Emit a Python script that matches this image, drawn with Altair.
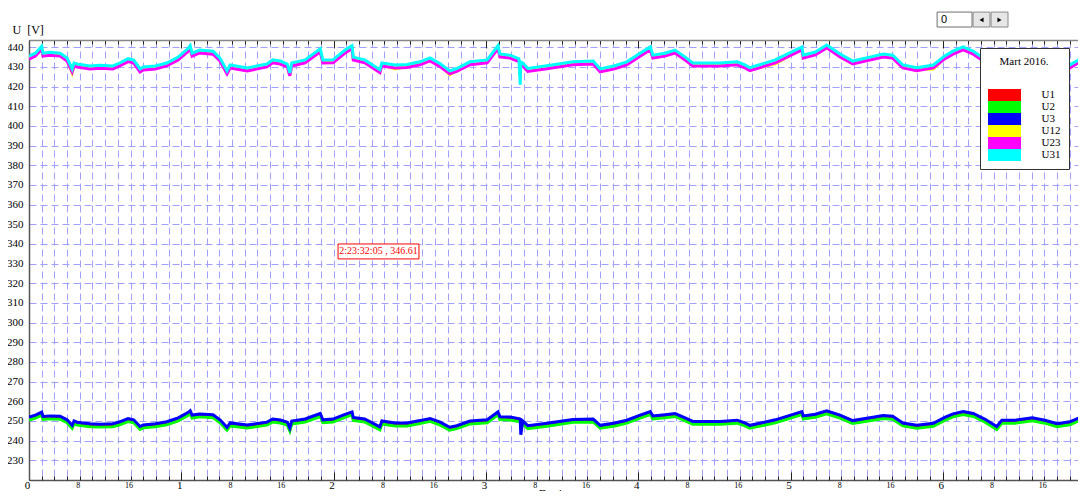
import altair as alt
import pandas as pd

# ---------------- data ----------------
HOURS = [0.0, 1.0, 2.0, 2.2, 3.3, 4.9, 6.0, 6.8, 7.1, 7.6,
         9.6, 11.2, 13.2, 14.3, 15.6, 16.5, 17.5, 18.0, 19.9, 21.7,
         23.5, 25.1, 25.4, 25.7, 26.9, 29.0, 30.1, 31.2, 31.7, 34.4,
         37.5, 38.4, 39.6, 40.7, 41.1, 41.4, 43.5, 45.9, 46.3, 47.9,
         49.8, 50.9, 51.1, 52.9, 55.3, 55.6, 57.7, 59.6, 61.6, 63.2,
         64.8, 66.3, 67.4, 69.5, 72.2, 73.9, 74.2, 75.8, 77.2, 77.4,
         77.5, 77.8, 78.6, 81.6, 85.7, 88.9, 90.0, 92.3, 94.2, 96.3,
         97.9, 98.3, 100.2, 101.8, 103.4, 104.6, 108.9, 111.6, 112.8, 113.6,
         117.6, 121.8, 122.0, 123.9, 125.7, 127.8, 129.8, 132.5, 134.6, 136.1,
         137.7, 139.9, 142.5, 144.3, 145.6, 147.2, 148.8, 150.6, 152.5, 153.3,
         155.4, 158.1, 160.1, 162.0, 164.0, 165.6, 166.6]

U31 = [435.5, 437.0, 440.5, 437.0, 437.5, 437.0, 434.5, 429.0, 432.0, 431.5,
       430.5, 430.8, 430.5, 432.0, 434.2, 433.5, 429.0, 430.0, 430.5, 432.0,
       435.0, 439.5, 440.8, 437.0, 438.6, 438.0, 434.5, 428.0, 431.0, 429.5,
       431.5, 433.6, 433.0, 431.5, 427.0, 432.0, 433.6, 439.2, 433.5, 433.6,
       438.6, 440.8, 435.0, 433.6, 428.6, 432.0, 431.0, 431.2, 432.6, 434.6,
       431.6, 428.0, 429.2, 432.6, 433.6, 440.8, 436.6, 436.0, 434.2, 421.0,
       432.5, 432.0, 429.2, 430.6, 432.6, 433.0, 429.0, 430.6, 432.6, 437.0,
       440.2, 436.0, 437.0, 438.6, 435.0, 432.0, 432.0, 432.6, 431.0, 429.6,
       433.6, 440.2, 436.0, 437.6, 441.2, 436.6, 433.0, 435.0, 436.6, 436.0,
       431.0, 429.6, 431.0, 435.6, 438.0, 440.2, 438.0, 434.0, 429.0, 432.6,
       432.6, 434.0, 432.6, 430.6, 431.0, 434.0, 434.6]

U23 = [434.0, 435.5, 439.0, 435.5, 436.0, 435.5, 433.0, 427.5, 430.5, 430.0,
       429.0, 429.3, 429.0, 430.5, 432.7, 432.0, 427.5, 428.5, 429.0, 430.5,
       433.5, 438.0, 439.3, 435.5, 437.1, 436.5, 433.0, 426.5, 429.5, 428.0,
       430.0, 432.1, 431.5, 430.0, 425.5, 430.5, 432.1, 437.7, 432.0, 432.1,
       437.1, 439.3, 433.5, 432.1, 427.1, 430.5, 429.5, 429.7, 431.1, 433.1,
       430.1, 426.5, 427.7, 431.1, 432.1, 439.3, 435.1, 434.5, 432.7, 431.9,
       431.0, 430.5, 427.7, 429.1, 431.1, 431.5, 427.5, 429.1, 431.1, 435.5,
       438.7, 434.5, 435.5, 437.1, 433.5, 430.5, 430.5, 431.1, 429.5, 428.1,
       432.1, 438.7, 434.5, 436.1, 439.7, 435.1, 431.5, 433.5, 435.1, 434.5,
       429.5, 428.1, 429.5, 434.1, 436.5, 438.7, 436.5, 432.5, 427.5, 431.1,
       431.1, 432.5, 431.1, 429.1, 429.5, 432.5, 433.1]

U12 = [434.5, 436.0, 439.5, 436.0, 436.5, 436.0, 433.5, 427.0, 431.0, 430.5,
       429.5, 429.8, 429.5, 431.0, 433.2, 432.5, 428.0, 429.0, 429.5, 431.0,
       434.0, 438.5, 439.8, 436.0, 437.6, 437.0, 433.5, 427.0, 430.0, 428.5,
       430.5, 432.6, 432.0, 430.5, 426.0, 431.0, 432.6, 438.2, 432.5, 432.6,
       437.6, 439.8, 434.0, 432.6, 427.6, 431.0, 429.0, 430.2, 431.6, 433.6,
       430.6, 426.0, 428.2, 431.6, 432.6, 439.8, 435.6, 435.0, 433.2, 432.4,
       431.5, 431.0, 428.2, 429.6, 431.6, 432.0, 428.0, 429.6, 431.6, 436.0,
       439.2, 435.0, 436.0, 437.6, 434.0, 431.0, 431.0, 431.6, 430.0, 428.6,
       431.6, 439.2, 435.0, 436.6, 440.2, 435.6, 432.0, 434.0, 435.6, 435.0,
       430.0, 428.6, 429.0, 434.6, 437.0, 439.2, 437.0, 433.0, 428.0, 431.6,
       431.6, 433.0, 431.6, 429.6, 430.0, 433.0, 433.6]

U3 = [252.0, 253.0, 254.5, 252.3, 252.6, 252.4, 250.6, 247.8, 250.0, 249.4,
      248.6, 248.4, 248.6, 249.6, 251.2, 250.6, 247.2, 248.0, 248.6, 249.6,
      251.6, 254.4, 255.2, 253.0, 253.6, 253.2, 250.6, 246.8, 249.0, 248.0,
      249.4, 251.0, 250.5, 249.4, 246.4, 250.0, 251.0, 253.8, 250.6, 251.0,
      253.4, 254.6, 251.8, 251.0, 247.0, 250.0, 249.0, 249.0, 250.2, 251.3,
      249.4, 246.8, 247.6, 250.0, 250.6, 254.6, 252.2, 252.0, 251.2, 251.0,
      243.0, 250.0, 247.6, 248.8, 250.8, 251.0, 247.8, 249.0, 250.4, 253.0,
      254.8, 252.6, 253.2, 253.8, 251.6, 249.8, 249.8, 250.4, 249.0, 247.8,
      250.6, 254.8, 252.6, 253.4, 255.2, 253.0, 250.2, 251.6, 252.8, 252.4,
      249.0, 247.8, 248.8, 251.8, 253.6, 254.8, 253.8, 251.0, 247.2, 250.4,
      250.4, 251.6, 250.4, 248.6, 249.6, 251.8, 252.2]

U2 = [250.5, 251.5, 253.0, 250.8, 251.1, 250.9, 249.1, 246.3, 248.5, 247.9,
      247.1, 246.9, 247.1, 248.1, 249.7, 249.1, 245.7, 246.5, 247.1, 248.1,
      250.1, 252.9, 253.7, 251.5, 252.1, 251.7, 249.1, 245.3, 247.5, 246.5,
      247.9, 249.5, 249.0, 247.9, 244.9, 248.5, 249.5, 252.3, 249.1, 249.5,
      251.9, 253.1, 250.3, 249.5, 245.5, 248.5, 247.5, 247.5, 248.7, 249.8,
      247.9, 245.3, 246.1, 248.5, 249.1, 253.1, 250.7, 250.5, 249.7, 249.5,
      249.3, 248.5, 246.1, 247.3, 249.3, 249.5, 246.3, 247.5, 248.9, 251.5,
      253.3, 251.1, 251.7, 252.3, 250.1, 248.3, 248.3, 248.9, 247.5, 246.3,
      249.1, 253.3, 251.1, 251.9, 253.7, 251.5, 248.7, 250.1, 251.3, 250.9,
      247.5, 246.3, 247.3, 250.3, 252.1, 253.3, 252.3, 249.5, 245.7, 248.9,
      248.9, 250.1, 248.9, 247.1, 248.1, 250.3, 250.7]

U1 = [251.2, 252.2, 253.7, 251.5, 251.8, 251.6, 249.8, 247.0, 249.2, 248.6,
      247.8, 247.6, 247.8, 248.8, 250.4, 249.8, 246.4, 247.2, 247.8, 248.8,
      250.8, 253.6, 254.4, 252.2, 252.8, 252.4, 249.8, 246.0, 248.2, 247.2,
      248.6, 250.2, 249.7, 248.6, 245.6, 249.2, 250.2, 253.0, 249.8, 250.2,
      252.6, 253.8, 251.0, 250.2, 246.2, 249.2, 248.2, 248.2, 249.4, 250.5,
      248.6, 246.0, 246.8, 249.2, 249.8, 253.8, 251.4, 251.2, 250.4, 250.2,
      250.0, 249.2, 246.8, 248.0, 250.0, 250.2, 247.0, 248.2, 249.6, 252.2,
      254.0, 251.8, 252.4, 253.0, 250.8, 249.0, 249.0, 249.6, 248.2, 247.0,
      249.8, 254.0, 251.8, 252.6, 254.4, 252.2, 249.4, 250.8, 252.0, 251.6,
      248.2, 247.0, 248.0, 251.0, 252.8, 254.0, 253.0, 250.2, 246.4, 249.6,
      249.6, 250.8, 249.6, 247.8, 248.8, 251.0, 251.4]

SERIES = ["U1", "U2", "U3", "U12", "U23", "U31"]
COLORS = ["#ff0000", "#00ff00", "#0000ff", "#ffff00", "#ff00ff", "#00ffff"]
VALUES = [U1, U2, U3, U12, U23, U31]

Y_TICKS = list(range(230, 441, 10))
X_TICKS = list(range(0, 165, 2))          # every 2 hours
X_DOMAIN = [0, 165.3]                     # hours visible
Y_DOMAIN = [220, 443.7]

LEGEND_TITLE = "Mart 2016."
Y_TITLE = "U \u00a0[V]"
X_TITLE = "Dani u mesecu"

# cursor read-out box (data coordinates: hours / volts)
CURSOR_TEXT = ["2:23:32:05 , 346.61"]
CURSOR_X = [48.7, 61.45]
CURSOR_Y = [332.4, 340.0]
CURSOR_C = [55.07, 336.2]

# spin control at the top right (data coordinates)
SPIN_FIELD_X = [143.1, 148.6]
SPIN_BTN_X0 = [148.76, 151.6]
SPIN_BTN_X1 = [151.43, 154.27]
SPIN_Y = [450.3, 457.9]
SPIN_TRI_X = [150.1, 152.93]
SPIN_TRI_SHAPE = ["triangle-left", "triangle-right"]
SPIN_MID_Y = 453.9
SPIN_TEXT = ["0"]
SPIN_TEXT_X = [143.7]

# ---------------- build ----------------
for v in VALUES:
    assert len(v) == len(HOURS)

rows = []
for name, vals in zip(SERIES, VALUES):
    for h, v in zip(HOURS, vals):
        rows.append({"hours": h, "value": v, "series": name})
df = pd.DataFrame(rows)

FONT = "Liberation Serif"
GRID = "#a0a0ff"
PLOT_W, PLOT_H = 1049, 440
IS_DAY = "datum.value % 24 === 0"
LABEL_EXPR = ("datum.value % 24 === 0 ? '' + (datum.value / 24) : "
              "(datum.value % 24 === 8 ? '8' : (datum.value % 24 === 16 ? '16' : ''))")
TICK_SIZE = {"condition": {"test": IS_DAY, "value": 8}, "value": 4}
# 33 x 12 px colour swatch (symbol size 144 -> 6 px per path unit)
SWATCH = "M-2.75,-1H2.75V1H-2.75Z"
PAD = "\u00a0\u00a0\u00a0\u00a0"

xscale = alt.Scale(domain=X_DOMAIN, nice=False, zero=False)
yscale = alt.Scale(domain=Y_DOMAIN, nice=False, zero=False)

lines = alt.Chart(df).mark_line(strokeWidth=3, clip=True).encode(
    x=alt.X("hours:Q", scale=xscale,
            axis=alt.Axis(orient="bottom", values=X_TICKS, labelExpr=LABEL_EXPR,
                          ticks=False, tickSize=0,
                          domainColor="#555555", domainWidth=1.5,
                          grid=True, gridColor=GRID, gridDash=[7, 4], gridWidth=1,
                          labelFont=FONT,
                          labelFontSize={"condition": {"test": IS_DAY, "value": 11}, "value": 8},
                          labelColor="black", labelPadding=5, labelBaseline="middle",
                          labelOffset=-2, labelOverlap=False, labelFlush=False, labelBound=False,
                          title=X_TITLE, titleFont=FONT, titleFontSize=12,
                          titleFontWeight="normal", titleColor="black",
                          titleX=545, titleY=8, titleBaseline="top")),
    y=alt.Y("value:Q", scale=yscale,
            axis=alt.Axis(values=Y_TICKS, ticks=False, tickSize=0,
                          domainColor="#555555", domainWidth=1.5,
                          grid=True, gridColor=GRID, gridDash=[7, 4], gridWidth=1,
                          labelFont=FONT, labelFontSize=11, labelColor="black",
                          labelPadding=6,
                          title=Y_TITLE, titleAngle=0, titleX=-17, titleY=-11,
                          titleAlign="left", titleBaseline="middle",
                          titleFont=FONT, titleFontSize=12, titleFontWeight="normal",
                          titleColor="black")),
    color=alt.Color("series:N", scale=alt.Scale(domain=SERIES, range=COLORS), legend=None),
)

# filled, invisible marks that carry the legend (filled colour swatches)
legend_layer = alt.Chart(df).mark_square(opacity=0, size=1).encode(
    x=alt.X("hours:Q", scale=xscale, axis=None),
    y=alt.Y("value:Q", scale=yscale, axis=None),
    fill=alt.Fill("series:N", scale=alt.Scale(domain=SERIES, range=COLORS),
                  legend=alt.Legend(
                      orient="none", legendX=951, legendY=8,
                      title=LEGEND_TITLE, titleFont=FONT, titleFontSize=11,
                      titleFontWeight="normal", titleColor="black",
                      titleAnchor="middle", titlePadding=22,
                      padding=8, fillColor="white", strokeColor="#333333",
                      symbolType=SWATCH, symbolSize=144, symbolStrokeWidth=0,
                      symbolOpacity=1, symbolOffset=10.5,
                      labelFont=FONT, labelFontSize=11, labelColor="black",
                      labelExpr="datum.label + '" + PAD + "'",
                      labelOffset=31, rowPadding=0)),
)

cursor_df = pd.DataFrame({"x0": [CURSOR_X[0]], "x1": [CURSOR_X[1]],
                          "y0": [CURSOR_Y[0]], "y1": [CURSOR_Y[1]]})
cursor_box = alt.Chart(cursor_df).mark_rect(fill="white", stroke="#ff0000", strokeWidth=1).encode(
    x=alt.X("x0:Q", scale=xscale,
            axis=alt.Axis(orient="top", offset=-PLOT_H, values=X_TICKS, labels=False,
                          domain=False, grid=False, ticks=True, tickColor="#222222",
                          tickSize=TICK_SIZE, tickWidth=1, title=None)),
    x2="x1:Q",
    y=alt.Y("y0:Q", scale=yscale, axis=None),
    y2="y1:Q",
)

ctext_df = pd.DataFrame({"x": [CURSOR_C[0]], "y": [CURSOR_C[1]], "t": CURSOR_TEXT})
cursor_text = alt.Chart(ctext_df).mark_text(font=FONT, fontSize=10, color="#ff0000").encode(
    x=alt.X("x:Q", scale=xscale,
            axis=alt.Axis(orient="bottom", offset=-PLOT_H, values=X_TICKS, labels=False,
                          domain=True, domainColor="#888888", domainWidth=1.5,
                          grid=False, ticks=True, tickColor="#222222",
                          tickSize=TICK_SIZE, tickWidth=1, title=None)),
    y=alt.Y("y:Q", scale=yscale, axis=None),
    text="t:N",
)

field_df = pd.DataFrame({"x0": [SPIN_FIELD_X[0]], "x1": [SPIN_FIELD_X[1]],
                         "y0": [SPIN_Y[0]], "y1": [SPIN_Y[1]]})
spin_field = alt.Chart(field_df).mark_rect(fill="white", stroke="#6e6e6e", strokeWidth=1).encode(
    x=alt.X("x0:Q", scale=xscale, axis=None), x2="x1:Q",
    y=alt.Y("y0:Q", scale=yscale, axis=None), y2="y1:Q")

btn_df = pd.DataFrame({"x0": SPIN_BTN_X0, "x1": SPIN_BTN_X1,
                       "y0": [SPIN_Y[0]] * 2, "y1": [SPIN_Y[1]] * 2})
spin_btn = alt.Chart(btn_df).mark_rect(fill="#e6e6e6", stroke="#8a8a8a", strokeWidth=1).encode(
    x=alt.X("x0:Q", scale=xscale, axis=None), x2="x1:Q",
    y=alt.Y("y0:Q", scale=yscale, axis=None), y2="y1:Q")

tri_df = pd.DataFrame({"x": SPIN_TRI_X, "y": [SPIN_MID_Y] * 2, "shape": SPIN_TRI_SHAPE})
spin_tri = alt.Chart(tri_df).mark_point(filled=True, color="black", size=22, opacity=1).encode(
    x=alt.X("x:Q", scale=xscale, axis=None),
    y=alt.Y("y:Q", scale=yscale, axis=None),
    shape=alt.Shape("shape:N", scale=alt.Scale(domain=SPIN_TRI_SHAPE, range=SPIN_TRI_SHAPE),
                    legend=None),
)

stext_df = pd.DataFrame({"x": SPIN_TEXT_X, "y": [SPIN_MID_Y], "t": SPIN_TEXT})
spin_text = alt.Chart(stext_df).mark_text(font="Liberation Sans", fontSize=11, color="black",
                                          align="left", baseline="middle").encode(
    x=alt.X("x:Q", scale=xscale, axis=None),
    y=alt.Y("y:Q", scale=yscale, axis=None),
    text="t:N")

chart = alt.layer(lines, cursor_box, cursor_text, legend_layer,
                  spin_field, spin_btn, spin_tri, spin_text).resolve_axis(
    x="independent", y="independent"
).resolve_legend(
    color="independent", fill="independent", shape="independent"
).properties(
    width=PLOT_W, height=PLOT_H, autosize="none",
    padding={"left": 21, "top": 32, "right": 0, "bottom": 11},
    background="white",
).configure_view(strokeWidth=0)

chart.save("out.html", embed_options={"renderer": "svg", "actions": False})
